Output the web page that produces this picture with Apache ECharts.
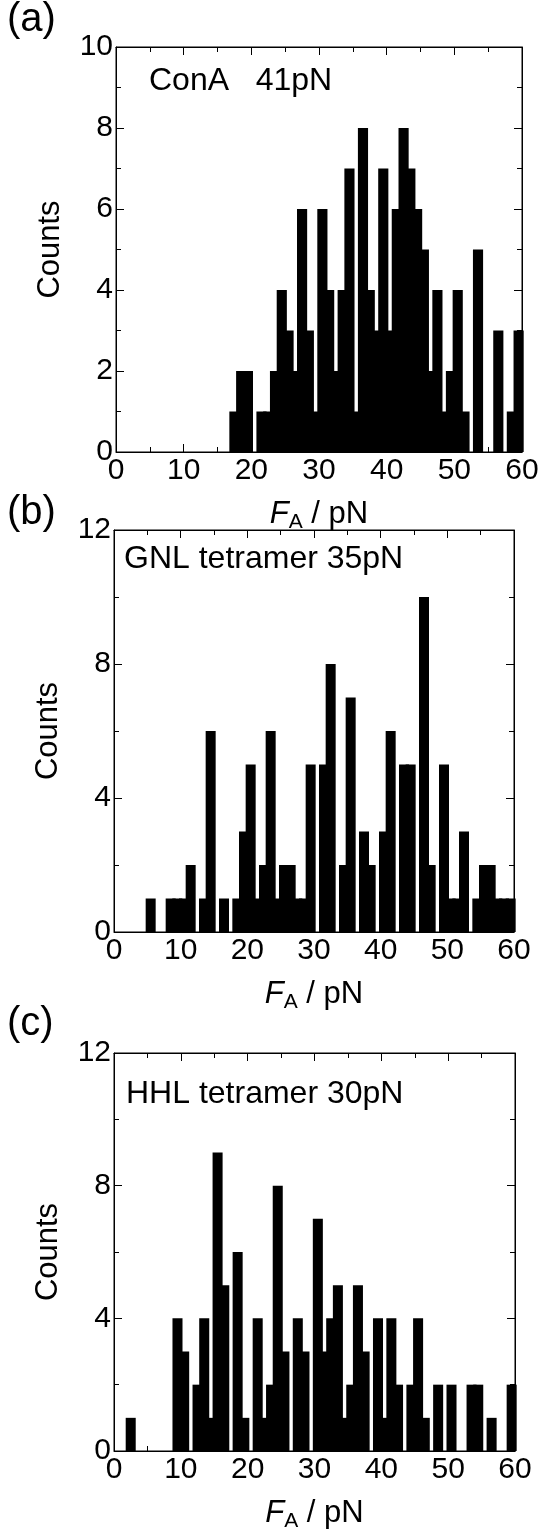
<!DOCTYPE html>
<html>
<head>
<meta charset="utf-8">
<title>Rupture force histograms</title>
<script src="https://cdn.jsdelivr.net/npm/echarts@6/dist/echarts.min.js"></script>
<style>
    html, body { margin: 0; padding: 0; background: #fff; }
    #main { width: 542px; height: 1533px; }
</style>
</head>
<body>
<div id="main"></div>
<script>
// bin centres, 1 pN bins
var binCenters = [
    0.5, 1.5, 2.5, 3.5, 4.5, 5.5, 6.5, 7.5, 8.5, 9.5,
    10.5, 11.5, 12.5, 13.5, 14.5, 15.5, 16.5, 17.5, 18.5, 19.5,
    20.5, 21.5, 22.5, 23.5, 24.5, 25.5, 26.5, 27.5, 28.5, 29.5,
    30.5, 31.5, 32.5, 33.5, 34.5, 35.5, 36.5, 37.5, 38.5, 39.5,
    40.5, 41.5, 42.5, 43.5, 44.5, 45.5, 46.5, 47.5, 48.5, 49.5,
    50.5, 51.5, 52.5, 53.5, 54.5, 55.5, 56.5, 57.5, 58.5, 59.5
];

// (a) ConA
var countsConA = [
    0, 0, 0, 0, 0, 0, 0, 0, 0, 0,
    0, 0, 0, 0, 0, 0, 0, 1, 2, 2,
    0, 1, 1, 2, 4, 3, 2, 6, 3, 1,
    6, 4, 2, 4, 7, 1, 8, 4, 3, 7,
    3, 6, 8, 7, 6, 5, 2, 4, 1, 2,
    4, 1, 0, 5, 0, 0, 3, 0, 1, 3
];

// (b) GNL tetramer
var countsGNL = [
    0, 0, 0, 0, 0, 1, 0, 0, 1, 1,
    1, 2, 0, 1, 6, 0, 1, 0, 1, 3,
    5, 1, 2, 6, 1, 2, 2, 1, 1, 5,
    0, 5, 8, 0, 2, 7, 0, 3, 2, 0,
    3, 6, 0, 5, 5, 0, 10, 2, 0, 5,
    1, 1, 3, 0, 1, 2, 2, 1, 1, 1
];

// (c) HHL tetramer
var countsHHL = [
    0, 0, 1, 0, 0, 0, 0, 0, 0, 4,
    3, 0, 2, 4, 1, 9, 5, 0, 6, 1,
    0, 4, 1, 2, 8, 3, 0, 4, 3, 0,
    7, 3, 4, 5, 1, 2, 5, 3, 0, 4,
    1, 4, 2, 0, 2, 4, 1, 0, 2, 0,
    2, 0, 0, 2, 2, 0, 1, 0, 0, 2
];

var panelTags = ['(a)', '(b)', '(c)'];
var panelNotes = ['ConA   41pN', 'GNL tetramer 35pN', 'HHL tetramer 30pN'];
var yMax = [10, 12, 12];
var yStep = [2, 4, 4];

var FONT = '"Liberation Sans", Arial, Helvetica, sans-serif';

var grids = [
    { left: 116, top: 47, width: 406, height: 405 },
    { left: 114, top: 530, width: 400, height: 402 },
    { left: 114, top: 1053, width: 401, height: 400 }
];
var allCounts = [countsConA, countsGNL, countsHHL];
var tagY = [22, 515, 1026];
var noteY = [83, 561, 1096];
var noteX = [149, 124, 126];

function getChart() {
    var myChart = echarts.init(document.getElementById("main"), null, { renderer: 'canvas' });

    var xAxes = [], yAxes = [], series = [], graphics = [];

    for (var i = 0; i < 3; i++) {
        var tick = { inside: true, length: 8, lineStyle: { color: '#000', width: 1 } };
        var minor = { show: true, splitNumber: 2, length: 5, lineStyle: { color: '#000', width: 1 } };
        var line = { show: true, onZero: false, lineStyle: { color: '#000', width: 1 } };

        grids[i].show = true;
        grids[i].borderColor = '#000';
        grids[i].borderWidth = 1;

        // bottom x axis
        xAxes.push({
            gridIndex: i, type: 'value', position: 'bottom',
            min: 0, max: 60, interval: 10,
            axisLine: line, axisTick: tick, minorTick: minor,
            splitLine: { show: false },
            axisLabel: { color: '#000', fontSize: 30, fontFamily: FONT, margin: 4 },
            name: '{f|F}{s|A}{n| / pN}',
            nameLocation: 'middle', nameGap: 44,
            nameTextStyle: {
                color: '#000', fontSize: 31, fontFamily: FONT,
                rich: {
                    f: { fontStyle: 'italic', fontSize: 31, fontFamily: FONT, color: '#000' },
                    s: { fontSize: 21, fontFamily: FONT, color: '#000', padding: [16, 0, 0, 0] },
                    n: { fontSize: 31, fontFamily: FONT, color: '#000' }
                }
            }
        });
        // top x axis (ticks only)
        xAxes.push({
            gridIndex: i, type: 'value', position: 'top',
            min: 0, max: 60, interval: 10,
            axisLine: line, axisTick: tick, minorTick: minor,
            splitLine: { show: false }, axisLabel: { show: false }
        });
        // left y axis
        yAxes.push({
            gridIndex: i, type: 'value', position: 'left',
            min: 0, max: yMax[i], interval: yStep[i],
            axisLine: line, axisTick: tick, minorTick: minor,
            splitLine: { show: false },
            axisLabel: { color: '#000', fontSize: 30, fontFamily: FONT, margin: 3 },
            name: 'Counts', nameLocation: 'middle', nameGap: 50,
            nameTextStyle: { color: '#000', fontSize: 31, fontFamily: FONT }
        });
        // right y axis (ticks only)
        yAxes.push({
            gridIndex: i, type: 'value', position: 'right',
            min: 0, max: yMax[i], interval: yStep[i],
            axisLine: line, axisTick: tick, minorTick: minor,
            splitLine: { show: false }, axisLabel: { show: false }
        });

        var counts = allCounts[i];
        series.push({
            type: 'bar',
            xAxisIndex: 2 * i,
            yAxisIndex: 2 * i,
            data: binCenters.map(function (x, j) { return [x, counts[j]]; }),
            barWidth: grids[i].width / 60 * 1.5,
            itemStyle: { color: '#000' },
            silent: true
        });
        // empty series so the mirrored top/right axes are drawn
        series.push({
            type: 'line',
            xAxisIndex: 2 * i + 1,
            yAxisIndex: 2 * i + 1,
            data: [],
            silent: true
        });

        graphics.push({
            type: 'text', left: 7, top: tagY[i] - 22,
            style: { text: panelTags[i], fontSize: 40, fontFamily: FONT, fill: '#000' }
        });
        graphics.push({
            type: 'text', left: noteX[i], top: noteY[i] - 18,
            style: { text: panelNotes[i], fontSize: 32, fontFamily: FONT, fill: '#000' }
        });
    }

    var option = {
        animation: false,
        backgroundColor: '#fff',
        grid: grids,
        xAxis: xAxes,
        yAxis: yAxes,
        series: series,
        graphic: graphics
    };

    myChart.setOption(option, true);
}

getChart();
</script>
</body>
</html>
